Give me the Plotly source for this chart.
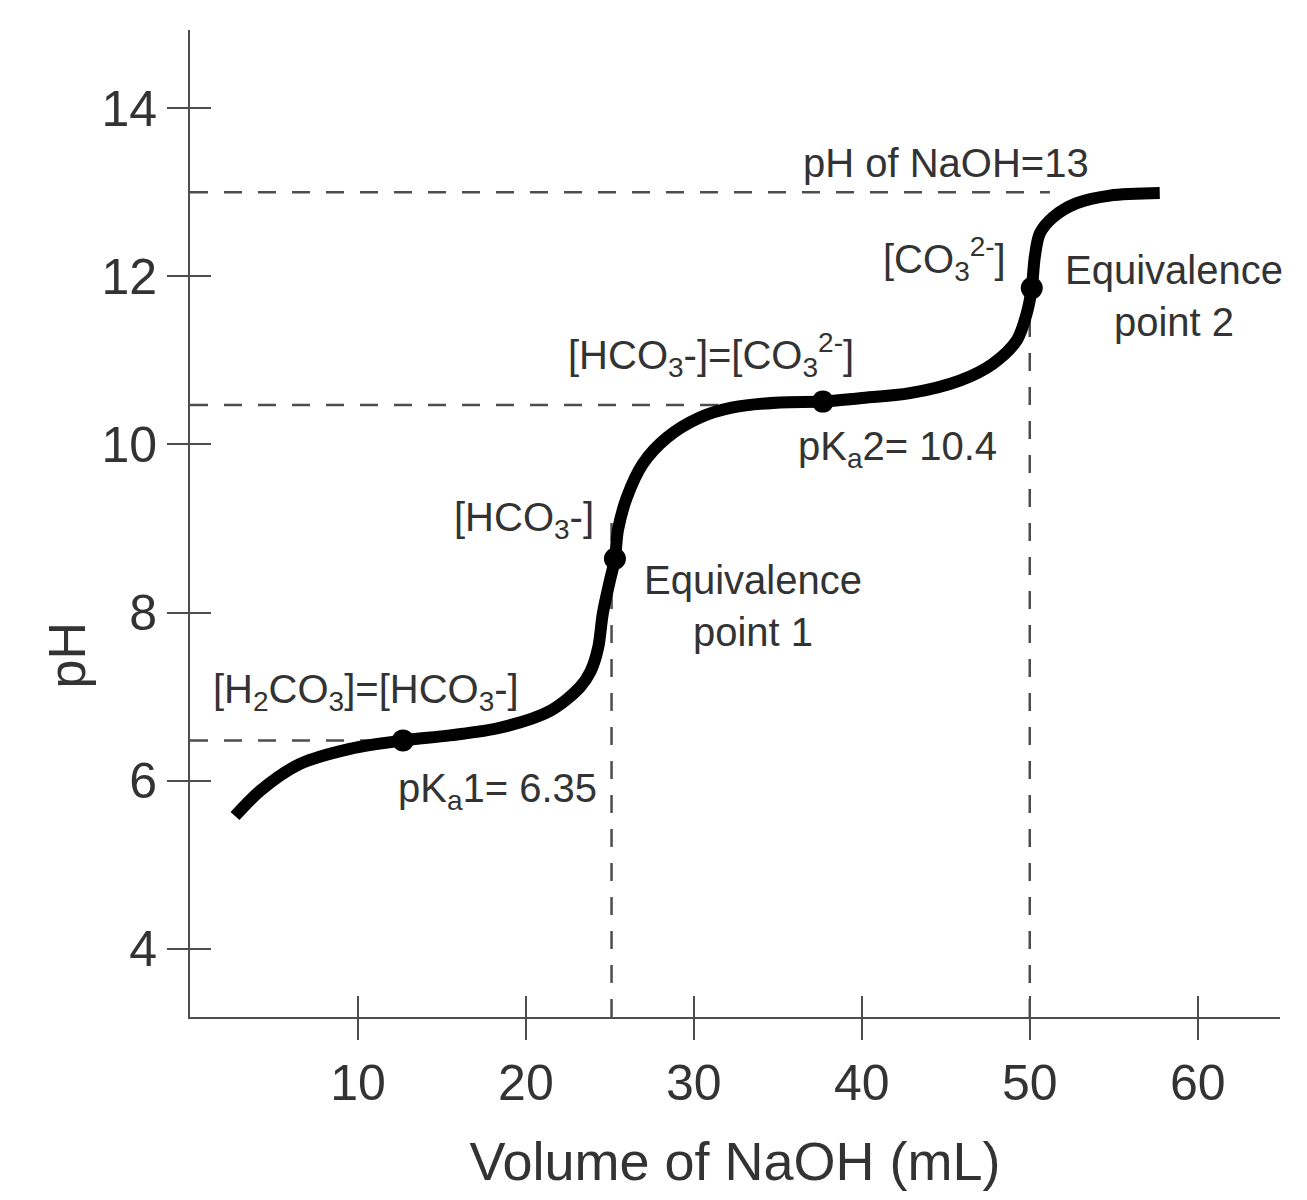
import plotly.graph_objects as go

# titration curve of carbonic acid with NaOH
vol = [2.68, 4.17, 6.55, 9.52, 12.68, 15.48, 18.45, 21.43, 23.21, 23.85, 24.30, 24.58,
       25.00, 25.30, 25.48, 26.01, 26.96, 28.39, 30.36, 32.32, 35.12, 37.68,
       39.88, 42.86, 45.83, 47.80, 49.23, 49.82, 50.12, 50.30, 50.60, 51.37,
       52.80, 54.76, 57.74]
ph = [5.58, 5.88, 6.20, 6.38, 6.48, 6.54, 6.63, 6.83, 7.11, 7.30, 7.58, 7.99,
      8.38, 8.64, 8.98, 9.37, 9.77, 10.08, 10.32, 10.44, 10.50, 10.51,
      10.55, 10.61, 10.76, 10.96, 11.24, 11.56, 11.86, 12.23, 12.51, 12.70,
      12.87, 12.96, 12.99]

# marked points: pKa1, equivalence 1, pKa2, equivalence 2
pt_vol = [12.68, 25.30, 37.68, 50.12]
pt_ph = [6.48, 8.64, 10.51, 11.86]

# reference levels for the dashed guides
naoh_ph = 13
pka_levels = [6.48, 10.47]
pka_ends = [12.68, 32.1]
eq_vol = [25.1, 50.0]
eq_top = [9.1, 11.5]

x_ticks = [10, 20, 30, 40, 50, 60]
y_ticks = [4, 6, 8, 10, 12, 14]

x_range = [0, 64.9]
y_range = [3.19, 14.93]

grey = "#4d4d4d"
txt = "#333333"
font = "Liberation Sans, Arial, sans-serif"
dash = dict(color=grey, width=2.5, dash="18px,16px")

fig = go.Figure()

# dashed guide lines
fig.add_trace(go.Scatter(x=[0, 51.2], y=[naoh_ph, naoh_ph], mode="lines", line=dash))
for lvl, end in zip(pka_levels, pka_ends):
    fig.add_trace(go.Scatter(x=[0, end], y=[lvl, lvl], mode="lines", line=dash))
for v, top in zip(eq_vol, eq_top):
    fig.add_trace(go.Scatter(x=[v, v], y=[y_range[0], top], mode="lines", line=dash))

# curve and points
fig.add_trace(go.Scatter(x=vol, y=ph, mode="lines",
                         line=dict(color="black", width=12, shape="spline", smoothing=0.9)))
fig.add_trace(go.Scatter(x=pt_vol, y=pt_ph, mode="markers",
                         marker=dict(color="black", size=22)))

# dummy trace so the inner-tick axes get drawn
fig.add_trace(go.Scatter(x=[None], y=[None], xaxis="x2", yaxis="y2"))

labels = [
    (45.0, 13.35, "pH of NaOH=13"),
    (44.9, 12.21, "[CO<sub>3</sub><sup>2-</sup>]"),
    (58.6, 11.77, "Equivalence<br>point 2"),
    (31.0, 11.06, "[HCO<sub>3</sub>-]=[CO<sub>3</sub><sup>2-</sup>]"),
    (42.1, 9.95, "pK<sub>a</sub>2= 10.4"),
    (19.9, 9.10, "[HCO<sub>3</sub>-]"),
    (33.5, 8.08, "Equivalence<br>point 1"),
    (10.5, 7.05, "[H<sub>2</sub>CO<sub>3</sub>]=[HCO<sub>3</sub>-]"),
    (18.3, 5.88, "pK<sub>a</sub>1= 6.35"),
]
for x, y, t in labels:
    fig.add_annotation(x=x, y=y, text=t, showarrow=False,
                       font=dict(size=40, color=txt, family=font))

fig.add_annotation(xref="paper", x=-0.112, xanchor="center", y=7.49, text="pH",
                   textangle=-90, showarrow=False,
                   font=dict(size=52, color=txt, family=font))

axis_common = dict(showgrid=False, zeroline=False, linecolor=grey, linewidth=2,
                   tickcolor=grey, tickwidth=2, ticklen=21)

fig.update_layout(
    width=1299, height=1192,
    margin=dict(l=182, r=27, t=22, b=183),
    plot_bgcolor="white", paper_bgcolor="white",
    showlegend=False,
    font=dict(family=font, color=txt),
    xaxis=dict(range=x_range, tickvals=x_ticks, ticks="outside", showline=True,
               tickfont=dict(size=50, color=txt),
               title=dict(text="Volume of NaOH (mL)", font=dict(size=54, color=txt), standoff=32),
               **axis_common),
    yaxis=dict(range=y_range, tickvals=y_ticks, ticks="outside", showline=True,
               tickfont=dict(size=50, color=txt), **axis_common),
    xaxis2=dict(range=x_range, tickvals=x_ticks, ticks="inside", showticklabels=False,
                overlaying="x", anchor="y2", showline=False, **axis_common),
    yaxis2=dict(range=y_range, tickvals=y_ticks, ticks="inside", showticklabels=False,
                overlaying="y", anchor="x2", showline=False, **axis_common),
)

fig.write_html("out.html")
